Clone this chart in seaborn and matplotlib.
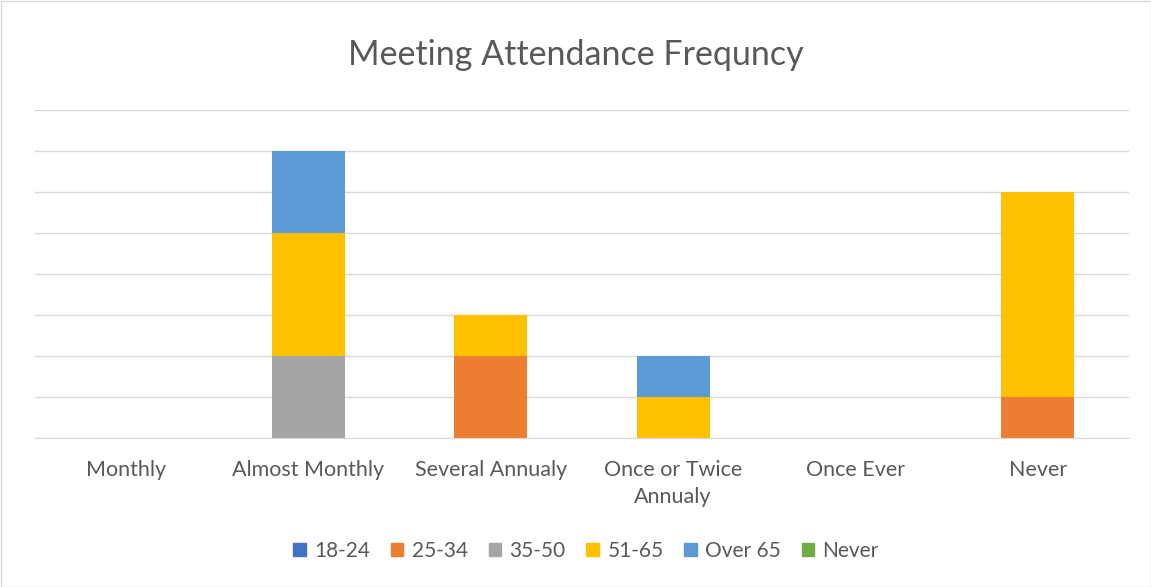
import matplotlib
matplotlib.use("Agg")
import matplotlib.pyplot as plt
import seaborn as sns
import numpy as np
import pandas as pd
from matplotlib.patches import Rectangle

categories = ["Monthly", "Almost Monthly", "Several Annualy", "Once or Twice\nAnnualy", "Once Ever", "Never"]
series_names = ["18-24", "25-34", "35-50", "51-65", "Over 65", "Never"]
s_18_24 = [0, 0, 0, 0, 0, 0]
s_25_34 = [0, 0, 2, 0, 0, 1]
s_35_50 = [0, 2, 0, 0, 0, 0]
s_51_65 = [0, 3, 1, 1, 0, 5]
s_over65 = [0, 2, 0, 1, 0, 0]
s_never = [0, 0, 0, 0, 0, 0]
colors = ["#4472C4", "#ED7D31", "#A5A5A5", "#FFC000", "#5B9BD5", "#70AD47"]

sns.set_style("white")
plt.rcParams['font.family'] = ['Lato', 'DejaVu Sans']

fig = plt.figure(figsize=(11.51, 5.87), dpi=100)
ax = fig.add_axes([35/1151, 1-438/587, (1129-35)/1151, (438-110)/587])

all_series = [s_18_24, s_25_34, s_35_50, s_51_65, s_over65, s_never]
bottom = np.zeros(len(categories))
for name, vals, col in zip(series_names, all_series, colors):
    df = pd.DataFrame({"cat": categories, "val": vals})
    sns.barplot(data=df, x="cat", y="val", order=categories, color=col,
                bottom=bottom, width=0.4, ax=ax, saturation=1, legend=False,
                edgecolor="none", linewidth=0)
    bottom = bottom + np.array(vals)

if ax.get_legend() is not None:
    ax.get_legend().remove()

ax.set_ylim(0, 8)
ax.set_yticks(range(0, 9))
ax.set_yticklabels([])
ax.tick_params(axis='y', length=0)
ax.tick_params(axis='x', length=0, labelsize=15.5, labelcolor="#595959", pad=16)
for lbl in ax.get_xticklabels():
    lbl.set_linespacing(1.45)
ax.grid(axis='y', color="#D9D9D9", linewidth=1)
ax.set_axisbelow(True)
for sp in ["top", "right", "left"]:
    ax.spines[sp].set_visible(False)
ax.spines["bottom"].set_color("#D9D9D9")
ax.set_xlabel("")
ax.set_ylabel("")
ax.set_xlim(-0.5, 5.5)

fig.suptitle("Meeting Attendance Frequncy", y=1-55/587, va="center",
             fontsize=24.5, color="#595959")

handles = [Rectangle((0, 0), 1, 1, color=c) for c in colors]
fig.legend(handles, series_names, loc="center", bbox_to_anchor=(586/1151, 1-551/587),
           ncol=6, frameon=False, fontsize=15, labelcolor="#595959",
           handlelength=0.6, handleheight=0.6, handletextpad=0.4, columnspacing=1.0)

fig.add_artist(Rectangle((0.5/1151, 0.5/587), 1-1/1151, 1-1/587, transform=fig.transFigure,
                         fill=False, edgecolor="#D9D9D9", linewidth=1))

fig.savefig("out.png", dpi=100)
